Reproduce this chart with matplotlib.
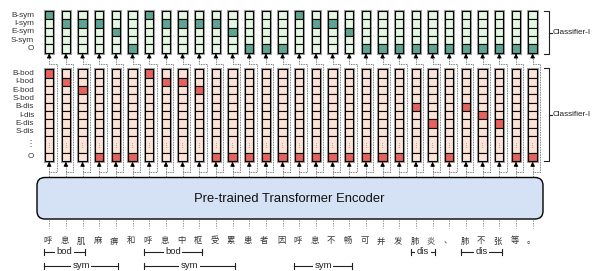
import matplotlib
matplotlib.use("Agg")
import matplotlib.pyplot as plt
from matplotlib.patches import Rectangle, FancyBboxPatch

plt.rcParams['font.family'] = ['Liberation Sans', 'DejaVu Sans']

# ---------------- data ----------------
chars = list("呼息肌麻痹和呼息中枢受累患者因呼息不畅可并发肺炎、肺不张等。")
sym_labels = ["B-sym", "I-sym", "E-sym", "S-sym", "O"]
bd_labels = ["B-bod", "I-bod", "E-bod", "S-bod", "B-dis", "I-dis", "E-dis", "S-dis", "⋮", "O"]
sym_tags = ["B-sym", "I-sym", "I-sym", "I-sym", "E-sym", "O",
            "B-sym", "I-sym", "I-sym", "I-sym", "I-sym", "E-sym",
            "O", "O", "O", "B-sym", "I-sym", "I-sym", "E-sym",
            "O", "O", "O", "O", "O", "O", "O", "O", "O", "O", "O"]
bd_tags = ["B-bod", "I-bod", "E-bod", "O", "O", "O",
           "B-bod", "I-bod", "I-bod", "E-bod",
           "O", "O", "O", "O", "O", "O", "O", "O", "O", "O", "O", "O",
           "B-dis", "E-dis", "O", "B-dis", "I-dis", "E-dis", "O", "O"]
# spans: (label, first char index, last char index, level)
spans = [("bod", 0, 2, 0), ("bod", 6, 9, 0), ("dis", 22, 23, 0), ("dis", 25, 27, 0),
         ("sym", 0, 4, 1), ("sym", 6, 11, 1), ("sym", 15, 18, 1)]
encoder_text = "Pre-trained Transformer Encoder"
classifier_names = ["Classifier-I", "Classifier-I"]

# ---------------- layout ----------------
W, H = 596, 271
X0, DX = 49.2, 16.67
CW, CH = 8.3, 8.33
TOP_Y0 = 11.0
LOW_Y0 = 69.3
low_heights = [1, 1, 1, 1, 1, 1, 1, 1, 2, 1]

top_light, top_dark = "#e4f7e1", "#5ea394"
low_light, low_dark = "#fde3d6", "#e6625d"
dot = (0, (1, 1))

fig = plt.figure(figsize=(W / 100, H / 100), dpi=100)
ax = fig.add_axes([0, 0, 1, 1])
ax.set_xlim(0, W)
ax.set_ylim(H, 0)
ax.axis("off")

n = len(chars)
xs = [X0 + i * DX for i in range(n)]

top_h = CH * len(sym_labels)
low_h = CH * sum(low_heights)
low_bottom = LOW_Y0 + low_h

for i, x in enumerate(xs):
    # --- top classifier column ---
    ax.add_patch(Rectangle((x - CW / 2, TOP_Y0), CW, top_h, fc="none",
                           ec="#a0a0a0", lw=2.2, zorder=2))
    for r, lab in enumerate(sym_labels):
        fc = top_dark if sym_tags[i] == lab else top_light
        ax.add_patch(Rectangle((x - CW / 2, TOP_Y0 + r * CH), CW, CH, fc=fc,
                               ec="black", lw=0.8, zorder=3))
    # --- lower classifier column ---
    ax.add_patch(Rectangle((x - CW / 2, LOW_Y0), CW, low_h, fc="none",
                           ec="#a0a0a0", lw=2.2, zorder=2))
    y = LOW_Y0
    for r, lab in enumerate(bd_labels):
        h = CH * low_heights[r]
        fc = low_dark if bd_tags[i] == lab else low_light
        ax.add_patch(Rectangle((x - CW / 2, y), CW, h, fc=fc,
                               ec="black", lw=0.8, zorder=3))
        if lab == "⋮":
            ax.text(x, y + h / 2, "⋮", ha="center", va="center", fontsize=4,
                    color="#666666", family="DejaVu Sans", zorder=4)
        y += h

    # --- connections ---
    enc_top = 177.5
    # direct arrow into lower classifier
    ax.plot([x, x], [enc_top, low_bottom + 4], ls=dot, lw=0.6, color="#555555", zorder=1)
    ax.annotate("", xy=(x, low_bottom + 0.8), xytext=(x, low_bottom + 5.5),
                arrowprops=dict(arrowstyle="-|>", color="black", lw=0.6,
                                mutation_scale=6.5, shrinkA=0, shrinkB=0), zorder=5)
    # bypass path to the top classifier
    xr = x + 7.5
    ax.plot([x, xr, xr, x, x], [172, 172, 64, 64, TOP_Y0 + top_h + 4],
            ls=dot, lw=0.6, color="#555555", zorder=1)
    ax.annotate("", xy=(x, TOP_Y0 + top_h + 0.8), xytext=(x, TOP_Y0 + top_h + 5.5),
                arrowprops=dict(arrowstyle="-|>", color="black", lw=0.6,
                                mutation_scale=6.5, shrinkA=0, shrinkB=0), zorder=5)
    # ticks under encoder
    ax.plot([x, x], [220, 228], ls=(0, (1.5, 1.5)), lw=0.6, color="#777777", zorder=1)
    # characters
    ax.text(x - 1.5, 241, chars[i], ha="center", va="center", fontsize=6,
            color="#333333", family=["Noto Sans CJK SC", "DejaVu Sans"])

# row labels
for r, lab in enumerate(sym_labels):
    ax.text(34, TOP_Y0 + (r + 0.5) * CH, lab, ha="right", va="center",
            fontsize=5.9, color="#333333")
y = LOW_Y0
for r, lab in enumerate(bd_labels):
    h = CH * low_heights[r]
    ax.text(34, y + h / 2, lab, ha="right", va="center", fontsize=5.9,
            color="#333333", family=["Liberation Sans", "DejaVu Sans"])
    y += h

# encoder
ax.add_patch(FancyBboxPatch((37, 177.5), 506, 41.5,
                            boxstyle="round,pad=0,rounding_size=8",
                            fc="#d5e1f4", ec="black", lw=1.0, zorder=3))
ax.text(289, 198.5, encoder_text, ha="center", va="center", fontsize=9.4,
        color="#111111", zorder=4)

# spans
level_y = [252, 265.5]
for lab, a, b, lev in spans:
    x1, x2 = xs[a] - 5, xs[b] + 2.5
    yy = level_y[lev]
    ax.plot([x1, x2], [yy, yy], color="#222222", lw=0.8)
    ax.plot([x1, x1], [yy - 3, yy + 3], color="#222222", lw=0.8)
    ax.plot([x2, x2], [yy - 3, yy + 3], color="#222222", lw=0.8)
    ax.text((x1 + x2) / 2, yy, lab, ha="center", va="center", fontsize=6.8,
            color="#222222",
            bbox=dict(boxstyle="square,pad=0.15", fc="white", ec="none"))

# classifier brackets
for (y1, y2), name in zip([(TOP_Y0, TOP_Y0 + top_h + 1.5), (LOW_Y0 - 1, low_bottom)],
                          classifier_names):
    bx = 544
    ax.plot([bx, bx + 5, bx + 5, bx], [y1, y1, y2, y2], color="#222222", lw=0.8)
    ym = (y1 + y2) / 2
    ax.plot([bx + 5, bx + 8], [ym, ym], color="#222222", lw=0.8)
    ax.text(bx + 8.5, ym, name, ha="left", va="center", fontsize=5.9,
            color="#222222")

fig.savefig("out.png", dpi=100)
